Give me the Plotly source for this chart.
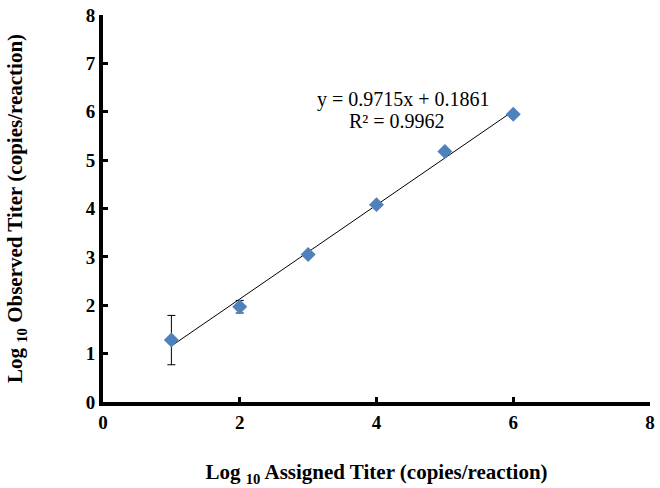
import plotly.graph_objects as go

assigned = [1, 2, 3, 4, 5, 6]
observed = [1.28, 1.97, 3.05, 4.08, 5.18, 5.95]
err = [0.51, 0.13, 0.04, 0.04, 0.04, 0.04]
slope = 0.9715
intercept = 0.1861
r2 = 0.9962
x_ticks = [0, 2, 4, 6, 8]
y_ticks = [0, 1, 2, 3, 4, 5, 6, 7, 8]

fit_x = [assigned[0], assigned[-1]]
fit_y = [slope * v + intercept for v in fit_x]

fig = go.Figure()
fig.add_trace(go.Scatter(x=fit_x, y=fit_y, mode="lines",
                         line=dict(color="black", width=1), showlegend=False))
fig.add_trace(go.Scatter(x=assigned, y=observed, mode="markers",
                         marker=dict(symbol="diamond", size=11.5, color="#4F81BD"),
                         error_y=dict(type="data", array=err, color="black",
                                      thickness=1, width=4),
                         showlegend=False))

fig.add_annotation(x=4.39, y=6.25, xref="x", yref="y",
                   text=f"y = {slope}x + {intercept}", showarrow=False,
                   font=dict(family="Liberation Serif", size=20, color="black"))
fig.add_annotation(x=4.3, y=5.81, xref="x", yref="y",
                   text=f"R² = {r2}", showarrow=False,
                   font=dict(family="Liberation Serif", size=20, color="black"))

tick_font = dict(family="Liberation Serif", size=19, color="black", weight="bold")
axis_common = dict(showline=True, linecolor="black", linewidth=4,
                   ticks="inside", ticklen=5, tickwidth=3, tickcolor="black",
                   showgrid=False, zeroline=False, tickfont=tick_font)

fig.update_xaxes(range=[0, 8], tickvals=x_ticks,
                 title=dict(text="Log <sub>10</sub> Assigned Titer (copies/reaction)",
                            font=dict(family="Liberation Serif", size=21, color="black",
                                      weight="bold"), standoff=34),
                 **axis_common)
fig.update_yaxes(range=[0, 8], tickvals=y_ticks, ticksuffix="  ",
                 title=dict(text="Log <sub>10</sub> Observed Titer (copies/reaction)",
                            font=dict(family="Liberation Serif", size=21, color="black",
                                      weight="bold"), standoff=58),
                 **axis_common)

fig.update_layout(width=660, height=488, plot_bgcolor="white", paper_bgcolor="white",
                  margin=dict(l=103, r=5, t=12, b=86))
fig.write_html("out.html", config={"displayModeBar": False},
               post_script="document.body.style.margin='0';")
